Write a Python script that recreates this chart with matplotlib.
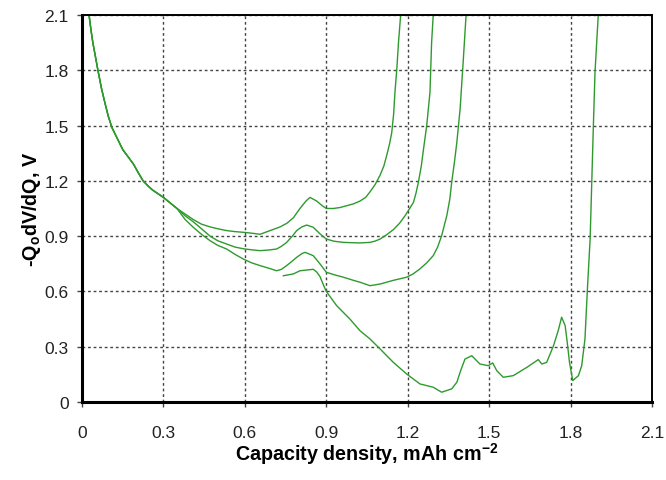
"""
dQ/dV style discharge curves, four cells
"""
import matplotlib
matplotlib.use("Agg")
import matplotlib.pyplot as plt
import numpy as np

plt.rcParams['font.family'] = ['Liberation Sans', 'DejaVu Sans']
plt.rcParams['mathtext.fontset'] = 'custom'
plt.rcParams['mathtext.rm'] = 'Liberation Sans:bold'
plt.rcParams['mathtext.bf'] = 'Liberation Sans:bold'

# shared start of all curves
start_x = [0.026, 0.033, 0.04, 0.05, 0.06, 0.072, 0.085, 0.097, 0.11, 0.13, 0.15, 0.17,
           0.19, 0.207, 0.225, 0.245, 0.26, 0.28, 0.30, 0.325, 0.35]
start_y = [2.10, 2.02, 1.95, 1.87, 1.79, 1.70, 1.62, 1.55, 1.49, 1.43, 1.37, 1.33,
           1.29, 1.245, 1.20, 1.17, 1.15, 1.13, 1.11, 1.08, 1.05]

a_x = [0.38, 0.41, 0.44, 0.472, 0.50, 0.533, 0.56, 0.60, 0.63, 0.656, 0.693, 0.73, 0.755,
       0.779, 0.803, 0.825, 0.84, 0.865, 0.885, 0.90, 0.926, 0.95, 0.975, 1.0, 1.024, 1.045,
       1.061, 1.08, 1.098, 1.112, 1.123, 1.133, 1.141, 1.148, 1.153, 1.16, 1.166, 1.174]
a_y = [1.02, 0.99, 0.965, 0.95, 0.94, 0.93, 0.925, 0.92, 0.915, 0.91, 0.93, 0.95, 0.97,
       1.00, 1.05, 1.09, 1.11, 1.09, 1.065, 1.05, 1.05, 1.055, 1.065, 1.075, 1.09, 1.11,
       1.14, 1.18, 1.23, 1.28, 1.34, 1.40, 1.46, 1.56, 1.68, 1.81, 1.95, 2.10]

b_x = [0.38, 0.41, 0.44, 0.472, 0.50, 0.533, 0.565, 0.60, 0.63, 0.656, 0.69, 0.717, 0.735,
       0.754, 0.775, 0.791, 0.81, 0.828, 0.852, 0.877, 0.90, 0.93, 0.963, 1.0, 1.024, 1.061,
       1.08, 1.098, 1.12, 1.147, 1.17, 1.19, 1.205, 1.221, 1.23, 1.239, 1.25, 1.258, 1.27,
       1.282, 1.288, 1.294]
b_y = [1.01, 0.978, 0.94, 0.90, 0.875, 0.857, 0.84, 0.83, 0.825, 0.821, 0.825, 0.83, 0.845,
       0.866, 0.90, 0.93, 0.95, 0.96, 0.948, 0.912, 0.884, 0.872, 0.866, 0.864, 0.863, 0.866,
       0.873, 0.884, 0.905, 0.935, 0.97, 1.01, 1.045, 1.083, 1.13, 1.19, 1.28, 1.37, 1.50,
       1.68, 1.95, 2.10]

c_x = [0.38, 0.41, 0.44, 0.472, 0.50, 0.533, 0.565, 0.594, 0.625, 0.656, 0.69, 0.717, 0.735,
       0.754, 0.775, 0.791, 0.81, 0.822, 0.852, 0.877, 0.90, 0.93, 0.963, 1.0, 1.024, 1.061,
       1.098, 1.147, 1.196, 1.22, 1.245, 1.27, 1.294, 1.31, 1.325, 1.344, 1.355, 1.362, 1.372,
       1.381, 1.393, 1.405, 1.415]
c_y = [0.99, 0.948, 0.91, 0.875, 0.85, 0.83, 0.80, 0.776, 0.755, 0.74, 0.725, 0.712, 0.72,
       0.74, 0.765, 0.785, 0.805, 0.812, 0.794, 0.749, 0.704, 0.69, 0.677, 0.66, 0.65, 0.631,
       0.64, 0.66, 0.677, 0.695, 0.722, 0.755, 0.794, 0.84, 0.902, 1.011, 1.10, 1.192, 1.30,
       1.409, 1.59, 1.861, 2.10]

# the longest cell (only drawn from 0.74 on)
d_x = [0.742, 0.779, 0.803, 0.822, 0.852, 0.865, 0.877, 0.888, 0.90, 0.938, 0.987, 1.024,
       1.061, 1.098, 1.147, 1.196, 1.245, 1.294, 1.325, 1.362, 1.381, 1.395, 1.411, 1.436,
       1.466, 1.497, 1.513, 1.528, 1.552, 1.589, 1.639, 1.681, 1.694, 1.712, 1.737, 1.755,
       1.767, 1.78, 1.788, 1.796, 1.808, 1.829, 1.841, 1.853, 1.862, 1.872, 1.878, 1.884,
       1.89, 1.902]
d_y = [0.685, 0.695, 0.712, 0.715, 0.72, 0.705, 0.68, 0.64, 0.60, 0.523, 0.45, 0.387,
       0.342, 0.288, 0.215, 0.152, 0.098, 0.08, 0.053, 0.071, 0.107, 0.17, 0.233, 0.251,
       0.206, 0.197, 0.212, 0.17, 0.134, 0.143, 0.188, 0.23, 0.206, 0.215, 0.305, 0.39,
       0.46, 0.414, 0.32, 0.215, 0.116, 0.143, 0.197, 0.342, 0.613, 0.884, 1.19, 1.50,
       1.79, 2.10]

ticks = [0, 0.3, 0.6, 0.9, 1.2, 1.5, 1.8, 2.1]
tick_labels = ["0", "0.3", "0.6", "0.9", "1.2", "1.5", "1.8", "2.1"]

green = '#2e9a2e'

fig = plt.figure(figsize=(6.66, 4.81), dpi=100)
ax = fig.add_axes([0.1231, 0.1622, 0.8559, 0.8046])

for cx, cy in [(a_x, a_y), (b_x, b_y), (c_x, c_y)]:
    ax.plot(start_x + cx, start_y + cy, color=green, lw=1.0)
ax.plot(d_x, d_y, color=green, lw=1.0)

ax.set_xlim(0, 2.1)
ax.set_ylim(0, 2.1)
ax.set_xticks(ticks)
ax.set_xticklabels(tick_labels)
ax.set_yticks(ticks)
ax.set_yticklabels(tick_labels)
ax.grid(True, color='#444444', linestyle=(0, (2, 2)), linewidth=1.0)
ax.set_axisbelow(True)

ax.tick_params(axis='both', labelsize=12.5, labelcolor='#222222', length=3.5, width=1,
               color='#444444')
ax.tick_params(axis='x', pad=13)
ax.tick_params(axis='y', pad=6)

for side in ['left', 'bottom']:
    ax.spines[side].set_linewidth(2.2)
for side in ['top', 'right']:
    ax.spines[side].set_linewidth(1.4)

ax.set_xlabel(r'Capacity density, mAh cm$^{\mathbf{-2}}$', fontsize=14.2, fontweight='bold', labelpad=0)
ax.set_ylabel(r'-Q$_{\mathbf{o}}$dV/dQ, V', fontsize=14.2, fontweight='bold', labelpad=1)

fig.savefig("out.png", dpi=100)
